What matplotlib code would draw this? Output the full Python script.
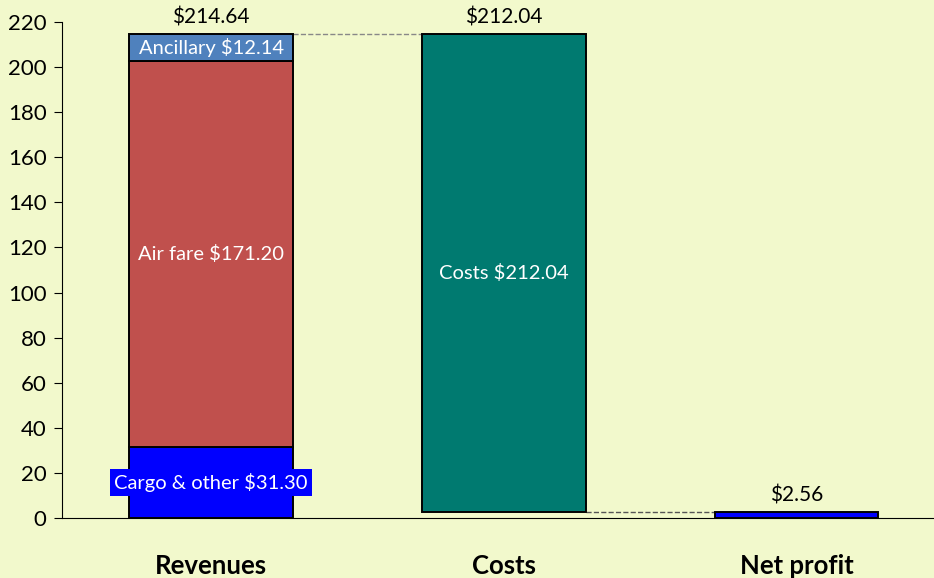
import matplotlib.pyplot as plt

plt.rcParams['font.family'] = ['Lato', 'DejaVu Sans']

categories = ['Revenues', 'Costs', 'Net profit']
cargo = 31.30
air_fare = 171.20
ancillary = 12.14
revenues = 214.64
costs = 212.04
profit = 2.56

bg = '#F2F9CC'
fig = plt.figure(figsize=(9.34, 5.78), dpi=100, facecolor=bg)
ax = fig.add_axes([0.0664, 0.1038, 0.9336, 0.8582], facecolor=bg)

w = 0.56
x = [0, 1, 2]
ec = dict(edgecolor='black', linewidth=1.4, zorder=3)

# revenues stack
ax.bar(x[0], cargo, w, color='#0000FF', **ec)
ax.bar(x[0], air_fare, w, bottom=cargo, color='#C0504D', **ec)
ax.bar(x[0], ancillary, w, bottom=cargo + air_fare, color='#4F81BD', **ec)
# costs floating bar
ax.bar(x[1], costs, w, bottom=profit, color='#007A70', **ec)
# net profit
ax.bar(x[2], profit, w, color='#0000FF', **ec)

# connectors
ax.plot([x[0] + w / 2, x[1] - w / 2], [revenues, revenues], ls='--', color='#888888', lw=1, zorder=2)
ax.plot([x[1] + w / 2, x[2] - w / 2], [profit, profit], ls='--', color='#555555', lw=1, zorder=2)

fs = 14.5
ax.text(x[0], cargo / 2, f'Cargo & other ${cargo:.2f}', ha='center', va='center', color='white', fontsize=fs,
        bbox=dict(facecolor='#0000FF', edgecolor='none', pad=3), zorder=4)
ax.text(x[0], cargo + air_fare / 2, f'Air fare ${air_fare:.2f}', ha='center', va='center', color='white', fontsize=fs, zorder=4)
ax.text(x[0], cargo + air_fare + ancillary / 2, f'Ancillary ${ancillary:.2f}', ha='center', va='center', color='white', fontsize=fs, zorder=4)
ax.text(x[1], profit + costs / 2, f'Costs ${costs:.2f}', ha='center', va='center', color='white', fontsize=fs, zorder=4)

ax.text(x[0], revenues + 3, f'${revenues:.2f}', ha='center', va='bottom', fontsize=15)
ax.text(x[1], revenues + 3, f'${costs:.2f}', ha='center', va='bottom', fontsize=15)
ax.text(x[2], profit + 3, f'${profit:.2f}', ha='center', va='bottom', fontsize=15)

ax.set_xlim(-0.51, 2.47)
ax.set_ylim(0, 220)
ax.set_yticks(range(0, 221, 20))
ax.set_xticks(x)
ax.set_xticklabels(categories, fontsize=18.5, fontweight='bold')
ax.tick_params(axis='x', length=0, pad=26)
ax.tick_params(axis='y', labelsize=16, direction='out', length=6, pad=5)
for s in ['top', 'right']:
    ax.spines[s].set_visible(False)

fig.savefig('out.png', dpi=100, facecolor=bg)
